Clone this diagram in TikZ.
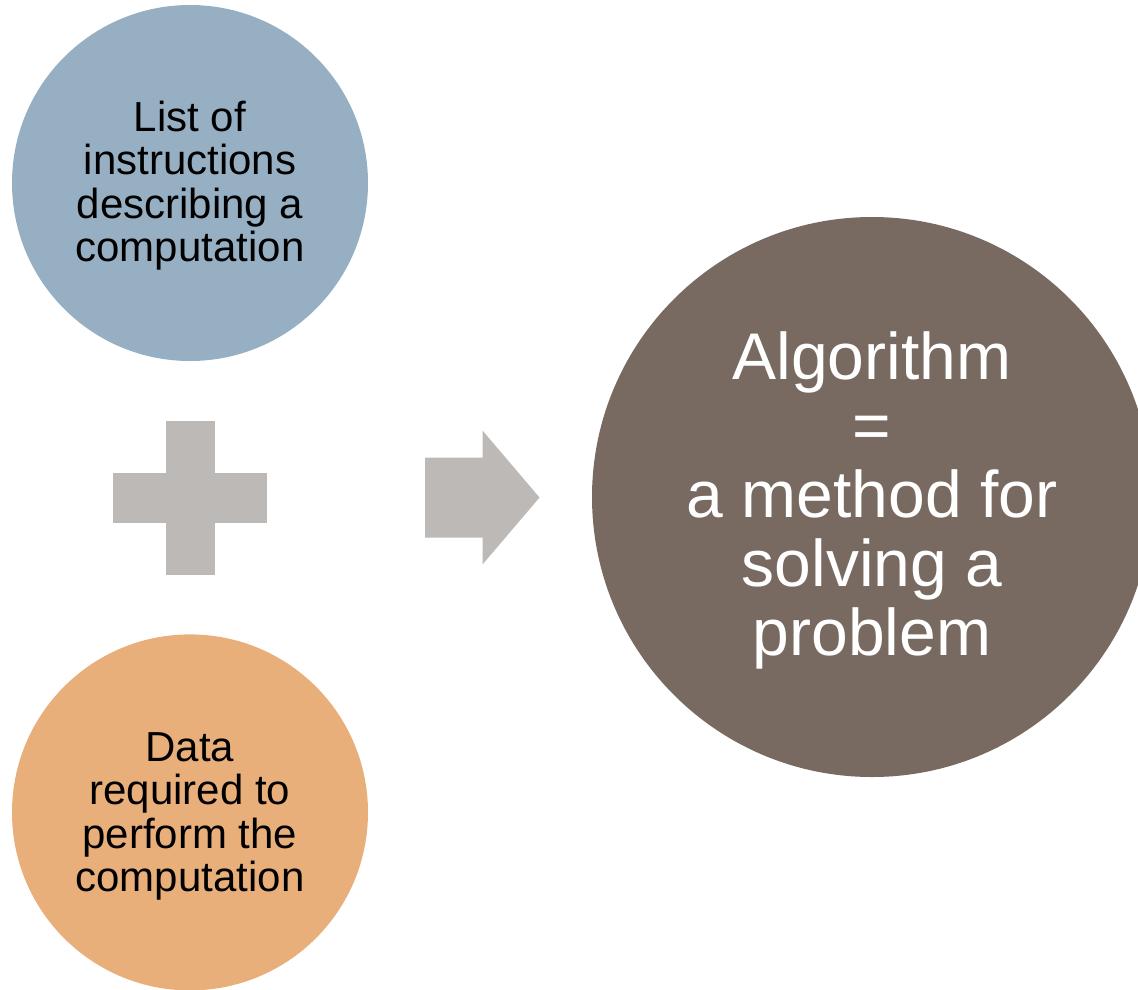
\documentclass[tikz,border=0pt]{standalone}
\usepackage{fontspec}
\setmainfont{Liberation Sans}
\usetikzlibrary{positioning}
\definecolor{instrblue}{HTML}{97AFC2}
\definecolor{dataorange}{HTML}{E9AF7A}
\definecolor{algobrown}{HTML}{786A61}
\definecolor{signgrey}{HTML}{BCB9B6}

\begin{document}
\begin{tikzpicture}[x=1pt,y=-1pt,
        small/.style={circle,minimum size=356pt,inner sep=0pt,align=center,font=\fontsize{42}{43.5}\selectfont},
        big/.style={circle,minimum size=560pt,inner sep=0pt,align=center,text=white,font=\fontsize{66}{69}\selectfont}]
        \useasboundingbox (0,0) rectangle (1138,989);
        \clip (0,0) rectangle (1138,989);

        \node(instr)[small,fill=instrblue] at (190,183) {\rule{0pt}{36pt}List of\\instructions\\describing a\\computation};
        \node(data)[small,fill=dataorange,below=273pt of instr] {\rule{0pt}{37pt}Data\\required to\\perform the\\computation};
        \node(algo)[big,fill=algobrown] at (872,497) {\rule{0pt}{55pt}Algorithm\\=\\a method for\\solving a\\problem};

        % plus
        \fill[signgrey] (113,472.5) rectangle (267,522.5);
        \fill[signgrey] (165.5,420.5) rectangle (215,574.5);

        % arrow
        \fill[signgrey] (425,457.5) -- (482.5,457.5) -- (482.5,430.5) -- (539.5,497.5)
            -- (482.5,564.5) -- (482.5,537.5) -- (425,537.5) -- cycle;
    \end{tikzpicture}
\end{document}
